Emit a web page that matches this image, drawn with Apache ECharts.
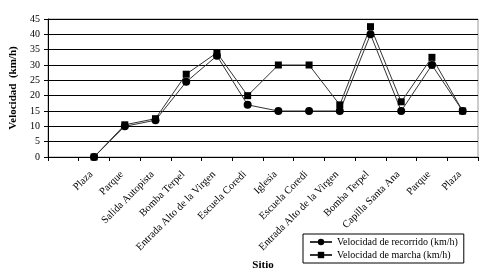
<!DOCTYPE html>
<html>
<head>
<meta charset="utf-8">
<script src="https://cdn.jsdelivr.net/npm/echarts@6/dist/echarts.min.js"></script>
<style>
  html, body { margin: 0; padding: 0; background: #fff; }
  #chart { width: 497px; height: 279px; }
</style>
</head>
<body>
<div id="chart"></div>
<script>
// sitios del recorrido (la primera categoría está vacía en el original)
const sitios = ["", "Plaza", "Parque", "Salida Autopista", "Bomba Terpel",
  "Entrada Alto de la Virgen", "Escuela Coredi", "Iglesia", "Escuela Coredi",
  "Entrada Alto de la Virgen", "Bomba Terpel", "Capilla Santa Ana", "Parque", "Plaza"];
const velRecorrido = [null, 0, 10, 12, 24.5, 33, 17, 15, 15, 15, 40, 15, 30, 15];
const velMarcha = [null, 0, 10.5, 12.5, 27, 34, 20, 30, 30, 17, 42.5, 18, 32.5, 15];

const fuente = "'Liberation Serif', 'Times New Roman', serif";

const chart = echarts.init(document.getElementById("chart"));
chart.setOption({
  animation: false,
  textStyle: { fontFamily: fuente, color: "#000" },
  grid: {
    show: true,
    left: 48,
    right: 19,
    top: 19,
    bottom: 122,
    borderColor: "#999",
    borderWidth: 1,
  },
  xAxis: {
    type: "category",
    data: sitios,
    boundaryGap: true,
    name: "Sitio",
    nameLocation: "middle",
    nameGap: 103,
    nameTextStyle: { fontFamily: fuente, fontWeight: "bold", fontSize: 11, color: "#000" },
    axisLine: { lineStyle: { color: "#000", width: 1 } },
    axisTick: { show: true, length: 4, lineStyle: { color: "#000" } },
    axisLabel: {
      interval: 0,
      rotate: 45,
      fontSize: 10.5,
      margin: 13,
      padding: [0, 4, 0, 0],
      color: "#000",
      fontFamily: fuente,
    },
    splitLine: { show: false },
  },
  yAxis: {
    type: "value",
    min: 0,
    max: 45,
    interval: 5,
    name: "Velocidad  (km/h)",
    nameLocation: "middle",
    nameGap: 28,
    nameTextStyle: { fontFamily: fuente, fontWeight: "bold", fontSize: 11, color: "#000" },
    axisLine: { show: true, lineStyle: { color: "#000", width: 1 } },
    axisTick: { show: true, length: 4, lineStyle: { color: "#000" } },
    axisLabel: { fontSize: 10, color: "#000", fontFamily: fuente, margin: 8 },
    splitLine: { show: true, lineStyle: { color: "#000", width: 1 } },
  },
  legend: {
    orient: "vertical",
    left: 303,
    top: 234,
    width: 174,
    padding: [3, 6, 3, 6],
    itemGap: 3,
    itemWidth: 22,
    itemHeight: 8,
    borderColor: "#000",
    borderWidth: 1,
    backgroundColor: "#fff",
    textStyle: { fontFamily: fuente, fontSize: 10, color: "#000" },
    data: ["Velocidad de recorrido (km/h)", "Velocidad de marcha (km/h)"],
  },
  series: [
    {
      name: "Velocidad de recorrido (km/h)",
      type: "line",
      data: velRecorrido,
      symbol: "circle",
      symbolSize: 8,
      itemStyle: { color: "#000" },
      lineStyle: { color: "#333", width: 1 },
    },
    {
      name: "Velocidad de marcha (km/h)",
      type: "line",
      data: velMarcha,
      symbol: "rect",
      symbolSize: 7,
      itemStyle: { color: "#000" },
      lineStyle: { color: "#333", width: 1 },
    },
  ],
});
</script>
</body>
</html>
